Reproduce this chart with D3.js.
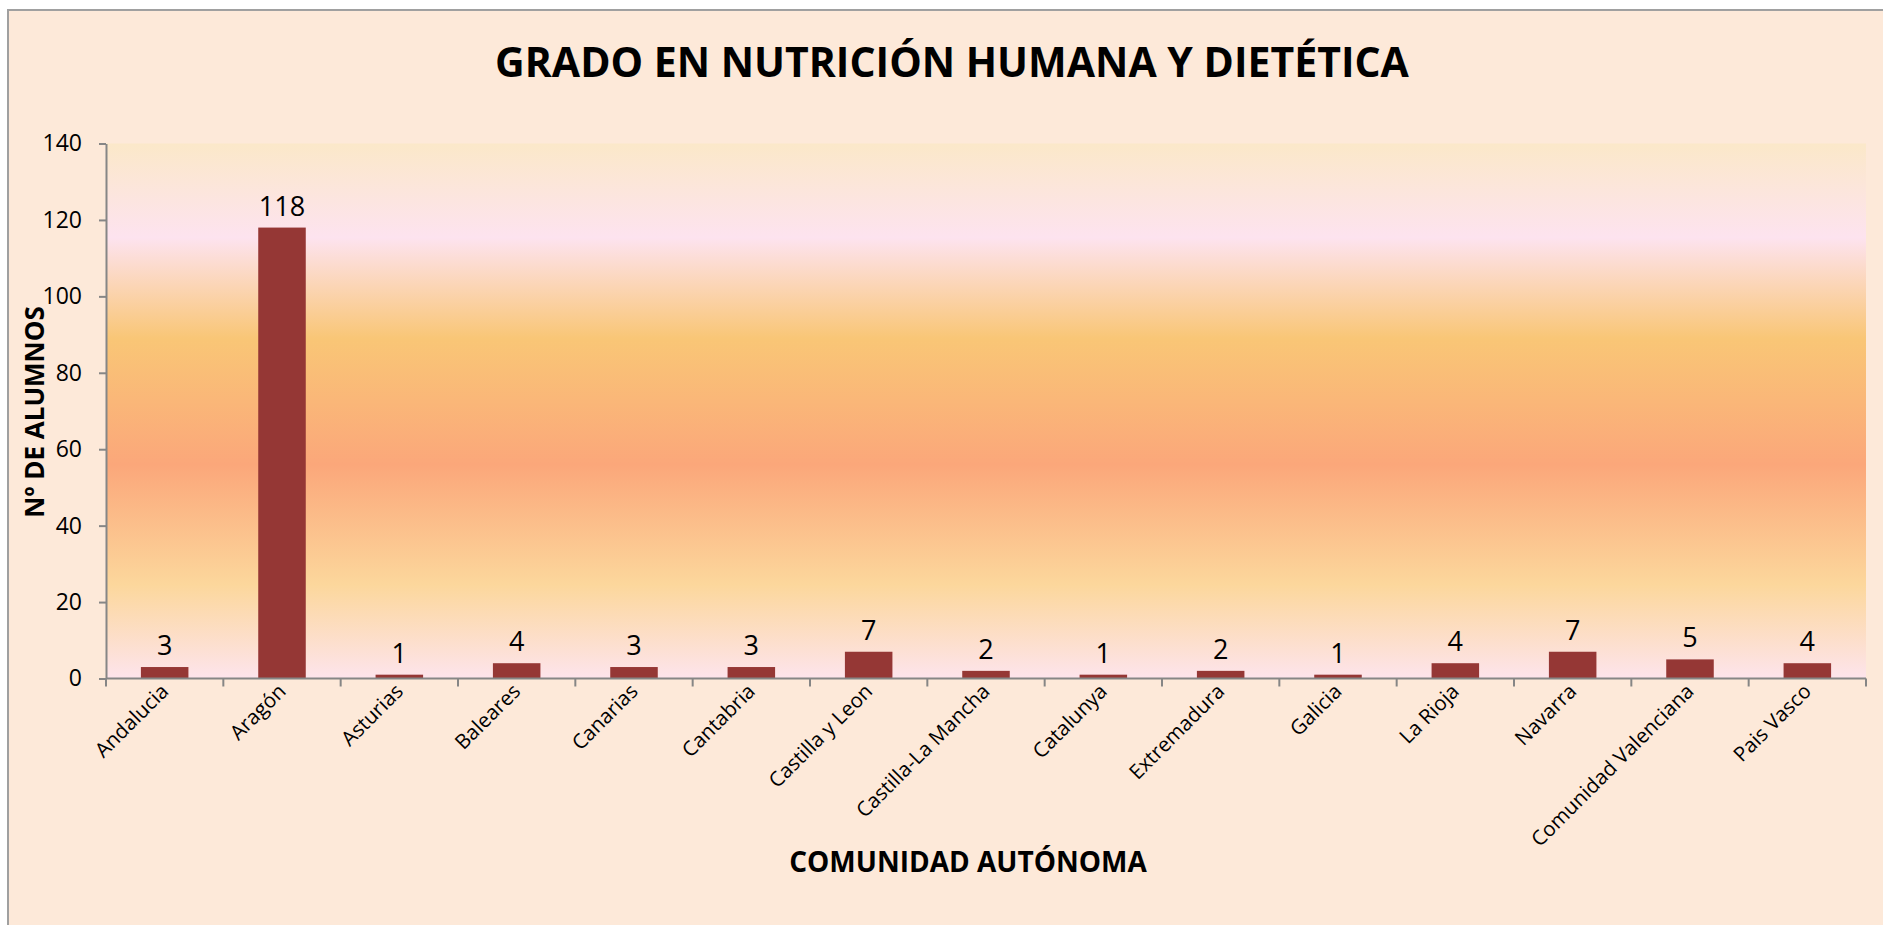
<!DOCTYPE html>
<html>
<head>
<meta charset="utf-8">
<script src="https://cdnjs.cloudflare.com/ajax/libs/d3/7.8.5/d3.min.js"></script>
<style>
    body { margin: 0; background: #ffffff; }
    text { font-family: "Open Sans", sans-serif; fill: #000; }
</style>
</head>
<body>
<div id="chart_div"></div>
<script>

// data
var regions = ["Andalucia", "Aragón", "Asturias", "Baleares", "Canarias", "Cantabria",
    "Castilla y Leon", "Castilla-La Mancha", "Catalunya", "Extremadura", "Galicia",
    "La Rioja", "Navarra", "Comunidad Valenciana", "Pais Vasco"];
var alumnos = [3, 118, 1, 4, 3, 3, 7, 2, 1, 2, 1, 4, 7, 5, 4];
var yTicks = [0, 20, 40, 60, 80, 100, 120, 140];

var chartTitle = "GRADO EN NUTRICIÓN HUMANA Y DIETÉTICA",
    xTitle = "COMUNIDAD AUTÓNOMA",
    yTitle = "Nº DE ALUMNOS";

var outerWidth = 1883,
    outerHeight = 925,
    margin = {top: 143.5, right: 17, bottom: 246.5, left: 106},
    width = outerWidth - margin.left - margin.right,
    height = outerHeight - margin.top - margin.bottom;

var svg = d3.select("#chart_div")
    .append("svg")
    .attr("width", outerWidth)
    .attr("height", outerHeight);

// chart area with border
svg.append("rect")
    .attr("x", 8)
    .attr("y", 10)
    .attr("width", outerWidth)
    .attr("height", outerHeight)
    .attr("fill", "#fde9d9")
    .attr("stroke", "#a0a0a0")
    .attr("stroke-width", 2);

// plot area gradient
var grad = svg.append("defs")
    .append("linearGradient")
    .attr("id", "plotFill")
    .attr("x1", 0).attr("y1", 0)
    .attr("x2", 0).attr("y2", 1);

var stops = [[0, "#fbe8c9"], [0.176, "#fde3ef"], [0.365, "#f9c676"],
    [0.6, "#fba77a"], [0.825, "#fcd79c"], [1, "#fde4ec"]];
grad.selectAll("stop")
    .data(stops)
    .enter().append("stop")
    .attr("offset", function(d) { return d[0]; })
    .attr("stop-color", function(d) { return d[1]; });

var g = svg.append("g")
    .attr("transform", "translate(" + margin.left + "," + margin.top + ")");

g.append("rect")
    .attr("width", width)
    .attr("height", height)
    .attr("fill", "url(#plotFill)");

// scales
var x = d3.scaleBand()
    .domain(regions)
    .range([0, width])
    .paddingInner(0.595)
    .paddingOuter(0.2975);

var slot = d3.scaleBand()
    .domain(regions)
    .range([0, width]);

var y = d3.scaleLinear()
    .domain([0, 140])
    .range([height, 0]);

// bars
g.selectAll(".bar")
    .data(alumnos)
    .enter().append("rect")
    .attr("class", "bar")
    .attr("x", function(d, i) { return x(regions[i]); })
    .attr("y", function(d) { return y(d); })
    .attr("width", x.bandwidth())
    .attr("height", function(d) { return height - y(d); })
    .attr("fill", "#953735");

// value labels
g.selectAll(".val")
    .data(alumnos)
    .enter().append("text")
    .attr("class", "val")
    .attr("x", function(d, i) { return x(regions[i]) + x.bandwidth() / 2; })
    .attr("y", function(d) { return y(d) - 12; })
    .attr("text-anchor", "middle")
    .style("font-size", "27px")
    .text(function(d) { return d; });

// Y axis
var yAxis = g.append("g")
    .call(d3.axisLeft(y).tickValues(yTicks).tickSize(7).tickSizeOuter(0).tickPadding(17));
yAxis.selectAll("text")
    .style("font-size", "23px")
    .style("font-family", "Open Sans");

// X axis, ticks between categories
var xAxis = g.append("g")
    .attr("transform", "translate(0," + height + ")");
xAxis.append("line")
    .attr("x1", 0).attr("x2", width)
    .attr("stroke", "#868686").attr("stroke-width", 2);
xAxis.selectAll(".xtick")
    .data(d3.range(regions.length + 1))
    .enter().append("line")
    .attr("class", "xtick")
    .attr("x1", function(i) { return i * slot.step(); })
    .attr("x2", function(i) { return i * slot.step(); })
    .attr("y1", 0).attr("y2", 8)
    .attr("stroke", "#868686").attr("stroke-width", 2);

xAxis.selectAll(".xlab")
    .data(regions)
    .enter().append("text")
    .attr("class", "xlab")
    .attr("text-anchor", "end")
    .attr("transform", function(d) {
        return "translate(" + (slot(d) + slot.bandwidth() / 2) + ",9) rotate(-45)";
    })
    .attr("dy", "0.35em")
    .style("font-size", "20.5px")
    .text(function(d) { return d; });

yAxis.selectAll("line, path")
    .attr("stroke", "#868686")
    .attr("stroke-width", 2);

// titles
svg.append("text")
    .attr("x", 952)
    .attr("y", 77)
    .attr("text-anchor", "middle")
    .style("font-size", "41px")
    .style("font-weight", "bold")
    .text(chartTitle);

svg.append("text")
    .attr("x", 968)
    .attr("y", 872)
    .attr("text-anchor", "middle")
    .style("font-size", "28px")
    .style("font-weight", "bold")
    .text(xTitle);

svg.append("text")
    .attr("transform", "translate(44,412) rotate(-90)")
    .attr("text-anchor", "middle")
    .style("font-size", "26px")
    .style("font-weight", "bold")
    .text(yTitle);

</script>
</body>
</html>
